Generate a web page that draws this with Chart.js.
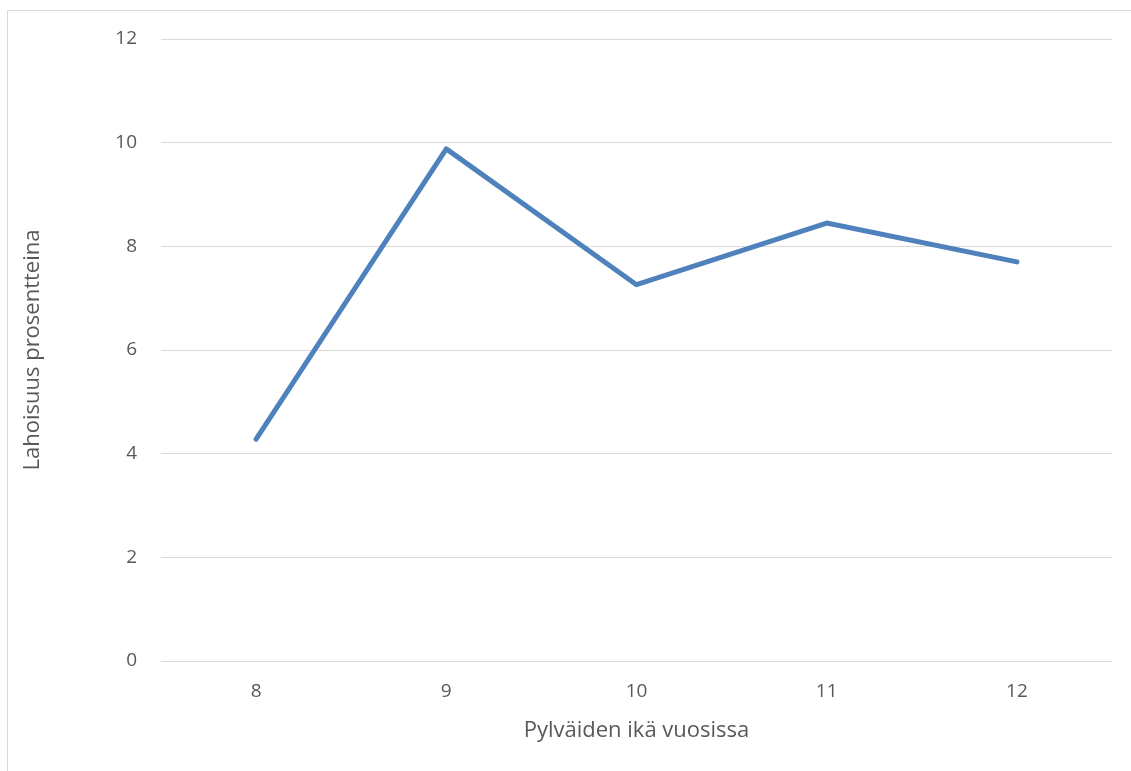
<!DOCTYPE html>
<html>
<head>
<meta charset="utf-8">
<script src="https://cdn.jsdelivr.net/npm/chart.js@4.4.0/dist/chart.umd.min.js"></script>
<style>
  html, body { margin: 0; padding: 0; background: #fff; }
  #wrap { position: relative; width: 1131px; height: 771px; overflow: hidden; }
  #frame { position: absolute; left: 7px; top: 10px; width: 1200px; height: 800px;
           border-left: 1px solid #d9d9d9; border-top: 1px solid #d9d9d9; }
  canvas { position: absolute; left: 0; top: 0; }
</style>
</head>
<body>
<div id="wrap">
  <div id="frame"></div>
  <canvas id="chart" width="1131" height="771"></canvas>
</div>
<script>
// Pylväiden lahoisuus iän mukaan
var ages = ['8', '9', '10', '11', '12'];
var decayPct = [4.28, 9.88, 7.26, 8.45, 7.70];
var yTicks = [0, 2, 4, 6, 8, 10, 12];

var FONT = 'Open Sans';
var TEXT = '#595959';

new Chart(document.getElementById('chart').getContext('2d'), {
  type: 'line',
  data: {
    labels: ages,
    datasets: [{
      data: decayPct,
      borderColor: '#4f81bd',
      backgroundColor: 'transparent',
      borderWidth: 5,
      pointRadius: 0,
      tension: 0,
      borderCapStyle: 'round',
      borderJoinStyle: 'round'
    }]
  },
  options: {
    responsive: false,
    animation: false,
    layout: { padding: { top: 39, right: 19, bottom: 0, left: 0 } },
    plugins: { legend: { display: false }, tooltip: { enabled: false } },
    scales: {
      x: {
        offset: true,
        grid: { display: false, drawTicks: false },
        border: { display: false },
        ticks: { color: TEXT, font: { family: FONT, size: 19 }, padding: 19, maxRotation: 0 },
        title: { display: true, text: 'Pylväiden ikä vuosissa', color: TEXT,
                 font: { family: FONT, size: 22 }, padding: { top: 0, bottom: 27 } },
        afterFit: function (s) { s.height = 110; }
      },
      y: {
        min: 0, max: 12,
        afterBuildTicks: function (s) { s.ticks = yTicks.map(function (v) { return { value: v }; }); },
        grid: { color: '#d9d9d9', lineWidth: 1, drawTicks: false },
        border: { display: false },
        ticks: { color: TEXT, font: { family: FONT, size: 19 }, padding: 24 },
        title: { display: true, text: 'Lahoisuus prosentteina', color: TEXT,
                 font: { family: FONT, size: 22 }, padding: { top: 20, bottom: 0 } },
        afterFit: function (s) { s.width = 161; }
      }
    }
  }
});
</script>
</body>
</html>
